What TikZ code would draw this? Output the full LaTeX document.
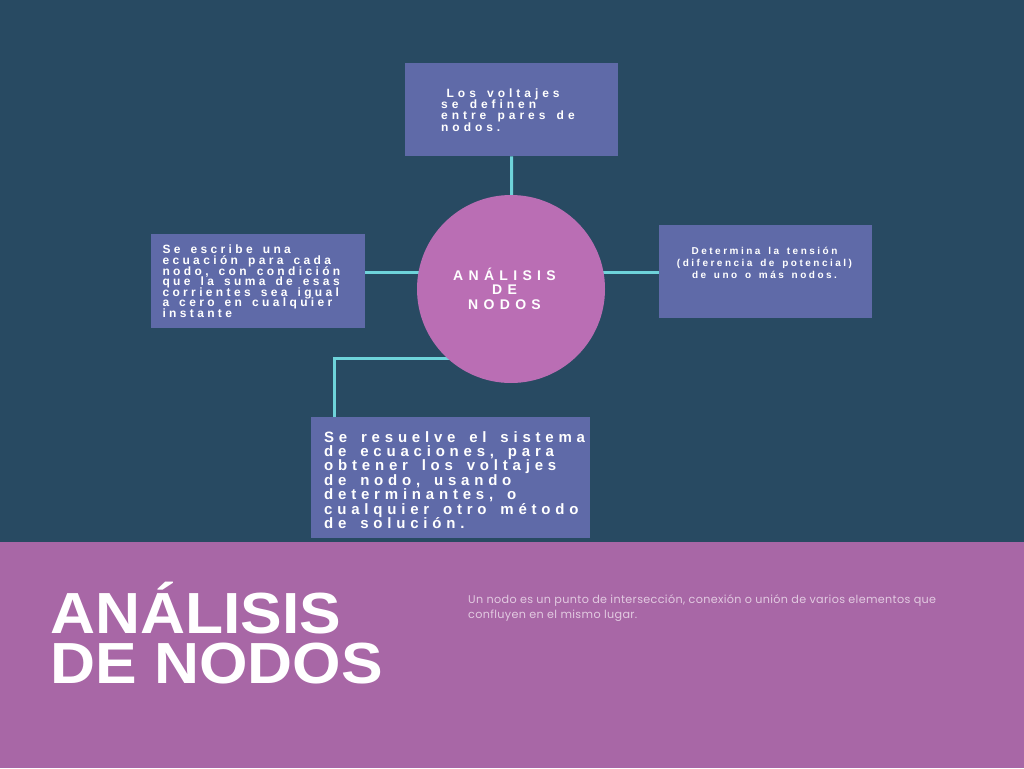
\documentclass[tikz,border=0pt]{standalone}
\usepackage{fontspec}
\setmainfont{Liberation Sans}
\newfontfamily\descfont{Poppins}

\definecolor{nightblue}{HTML}{284A62}
\definecolor{boxblue}{HTML}{5F6AA8}
\definecolor{orchid}{HTML}{BA6EB4}
\definecolor{bandpurple}{HTML}{A867A6}
\definecolor{linkcyan}{HTML}{6ED3DA}
\definecolor{desctext}{HTML}{E2CAE1}

\pgfdeclarelayer{bg}
\pgfdeclarelayer{links}
\pgfsetlayers{bg,links,main}

% fixed leading regardless of glyph heights
\newcommand{\tightlines}{\lineskiplimit=-40pt\relax}
% tracked text: size, leading, tracking (percent of size); word spaces get the tracking too
\newcommand{\spaced}[3]{\fontsize{#1}{#2}\selectfont\tightlines
  \addfontfeatures{LetterSpace=#3}%
  \spaceskip=\dimexpr\fontdimen2\font+#1pt*#3/100\relax}

\tikzset{
  infobox/.style={fill=boxblue, draw=none, inner sep=0pt, anchor=north west},
  boxtext/.style={text=white, inner sep=0pt, align=left, anchor=north west},
  link/.style={draw=linkcyan, line width=3pt, line join=miter},
}

\begin{document}
\begin{tikzpicture}[x=1pt,y=-1pt]
\useasboundingbox (0,0) rectangle (1024,768);

\begin{pgfonlayer}{bg}
  \fill[nightblue] (0,0) rectangle (1024,542);
  \fill[bandpurple] (0,542) rectangle (1024,768);
\end{pgfonlayer}

% boxes around the central circle
\node[infobox, minimum width=213pt, minimum height=93pt] (tbox) at (405,63) {};
\node[infobox, minimum width=214pt, minimum height=94pt] (lbox) at (151,234) {};
\node[infobox, minimum width=213pt, minimum height=93pt] (rbox) at (659,225) {};
\node[infobox, minimum width=279pt, minimum height=121pt] (bbox) at (311,417) {};

\node[circle, fill=orchid, minimum size=188pt, inner sep=0pt] (circ) at (511,289) {};

% connectors
\coordinate (ly) at (0,272);
\coordinate (elbow) at (334,358.7);
\begin{pgfonlayer}{links}
  \draw[link] (tbox.south) -- (circ.center);
  \draw[link] (lbox.east |- ly) -- (circ.center |- ly);
  \draw[link] (circ.center |- ly) -- (rbox.west |- ly);
  \draw[link] (circ.center |- elbow) -- (elbow) -- (elbow |- bbox.north);
\end{pgfonlayer}

% texts
\node[boxtext, font=\bfseries\spaced{12}{11.3}{33}] (ttext) at (441,88.5)
  {\hspace*{5.5pt}Los voltajes\\se definen\\entre pares de\\nodos.};

\node[boxtext, font=\bfseries\spaced{12}{10.6}{28}] (ltext) at (162.3,245)
  {Se escribe una\\ecuación para cada\\nodo, con condición\\que la suma de esas\\corrientes sea igual\\a cero en cualquier\\instante};

\node[boxtext, align=center, anchor=north, font=\bfseries\spaced{10}{12.2}{25}] (rtext) at (764.5,246.5)
  {Determina la tensión\\(diferencia de potencial)\\de uno o más nodos.};

\node[boxtext, font=\bfseries\spaced{15}{14.4}{32}] (btext) at (324,431)
  {Se resuelve el sistema\\de ecuaciones, para\\obtener los voltajes\\de nodo, usando\\determinantes, o\\cualquier otro método\\de solución.};

\node[boxtext, align=center, anchor=north, font=\bfseries\spaced{14}{14.2}{38}] (ctext) at (504.5,268)
  {ANÁLISIS\\DE\\NODOS};

% footer
\node[boxtext, font=\bfseries\fontsize{58}{50}\selectfont\tightlines\addfontfeatures{FakeStretch=1.075}] (title) at (50,581.5)
  {ANÁLISIS\\DE NODOS};

\node[boxtext, text=desctext, font=\descfont\fontsize{11.2}{15.5}\selectfont\addfontfeatures{LetterSpace=3}] (desc) at (468,594)
  {Un nodo es un punto de intersección, conexión o unión de varios elementos que\\confluyen en el mismo lugar.};
\end{tikzpicture}
\end{document}
